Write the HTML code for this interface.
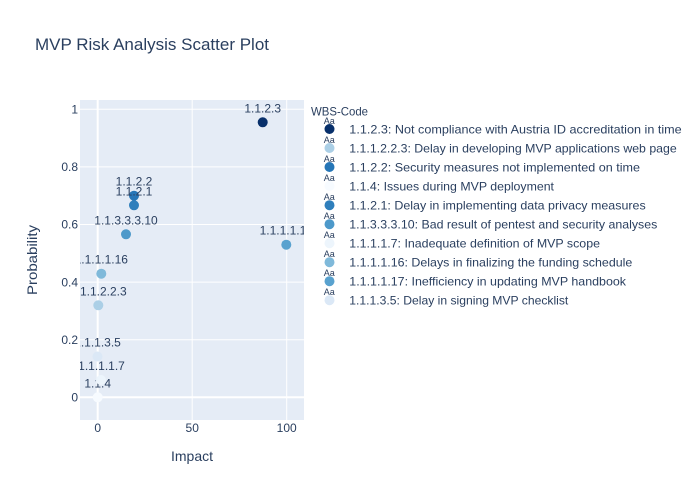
<!DOCTYPE html>
<html>
<head>
<meta charset="utf-8">
<style>
  html, body { margin: 0; padding: 0; background: #ffffff; }
  svg { display: block; }
  text { font-family: "Liberation Sans", "DejaVu Sans", sans-serif; fill: #2a3f5f; }
</style>
</head>
<body>
<svg width="700" height="500" viewBox="0 0 700 500" xmlns="http://www.w3.org/2000/svg">
  <defs>
    <clipPath id="plotclip">
      <rect x="80" y="100" width="224" height="320"/>
    </clipPath>
  </defs>
  <rect x="0" y="0" width="700" height="500" fill="#ffffff"/>
  <!-- plot background -->
  <rect x="80" y="100" width="224" height="320" fill="#e5ecf6"/>

  <!-- grid lines -->
  <g stroke="#ffffff" stroke-width="1">
    <line x1="192.2" y1="100" x2="192.2" y2="420"/>
    <line x1="286.7" y1="100" x2="286.7" y2="420"/>
    <line x1="80" y1="109.3" x2="304" y2="109.3"/>
    <line x1="80" y1="166.9" x2="304" y2="166.9"/>
    <line x1="80" y1="224.5" x2="304" y2="224.5"/>
    <line x1="80" y1="282.1" x2="304" y2="282.1"/>
    <line x1="80" y1="339.7" x2="304" y2="339.7"/>
  </g>
  <!-- zero lines -->
  <g stroke="#ffffff" stroke-width="2">
    <line x1="97.7" y1="100" x2="97.7" y2="420"/>
    <line x1="80" y1="397.3" x2="304" y2="397.3"/>
  </g>

  <!-- title -->
  <text x="35" y="50" font-size="17" textLength="234" lengthAdjust="spacingAndGlyphs">MVP Risk Analysis Scatter Plot</text>

  <!-- y tick labels -->
  <g font-size="12" text-anchor="end">
    <text x="78" y="113.5">1</text>
    <text x="78" y="171.1">0.8</text>
    <text x="78" y="228.7">0.6</text>
    <text x="78" y="286.3">0.4</text>
    <text x="78" y="343.9">0.2</text>
    <text x="78" y="401.5">0</text>
  </g>
  <!-- x tick labels -->
  <g font-size="12" text-anchor="middle">
    <text x="97.7" y="432">0</text>
    <text x="192.2" y="432">50</text>
    <text x="286.7" y="432">100</text>
  </g>

  <!-- axis titles -->
  <text x="192" y="461" font-size="14" text-anchor="middle">Impact</text>
  <text transform="translate(37,260) rotate(-90)" x="0" y="0" font-size="14" text-anchor="middle" textLength="70" lengthAdjust="spacingAndGlyphs">Probability</text>

  <!-- data traces, in legend order: marker then label -->
  <g clip-path="url(#plotclip)" font-size="12" text-anchor="middle">
    <circle cx="262.7" cy="122.3" r="5" fill="rgb(8,48,107)"/>
    <text x="262.7" y="112.3">1.1.2.3</text>

    <circle cx="98.3" cy="305.3" r="5" fill="rgb(171,207,230)"/>
    <text x="98.3" y="295.3">1.1.1.2.2.3</text>

    <circle cx="134" cy="195.7" r="5" fill="rgb(38,118,183)"/>
    <text x="134" y="185.7">1.1.2.2</text>

    <circle cx="97.7" cy="397.3" r="5" fill="rgb(247,251,255)"/>
    <text x="97.7" y="387.3">1.1.4</text>

    <circle cx="134" cy="205.3" r="5" fill="rgb(47,127,188)"/>
    <text x="134" y="195.3">1.1.2.1</text>

    <circle cx="126" cy="234.3" r="5" fill="rgb(77,153,202)"/>
    <text x="126" y="224.3">1.1.3.3.3.10</text>

    <circle cx="101" cy="380" r="5" fill="rgb(237,245,252)"/>
    <text x="101.5" y="370">1.1.1.1.7</text>

    <circle cx="101.3" cy="273.7" r="5" fill="rgb(127,185,218)"/>
    <text x="101.3" y="263.7">1.1.1.1.16</text>

    <circle cx="286.3" cy="244.7" r="5" fill="rgb(89,162,207)"/>
    <text x="286.3" y="234.7">1.1.1.1.17</text>

    <circle cx="97.5" cy="356.5" r="5" fill="rgb(219,232,246)"/>
    <text x="97.5" y="346.5">1.1.1.3.5</text>
  </g>

  <!-- legend -->
  <text x="311" y="115.5" font-size="12" textLength="57" lengthAdjust="spacingAndGlyphs">WBS-Code</text>
  <g>
    <g transform="translate(0,129)">
      <text x="329.3" y="-5" font-size="9" text-anchor="middle">Aa</text>
      <circle cx="329.5" cy="0" r="5" fill="rgb(8,48,107)"/>
      <text x="349.3" y="4.5" font-size="12" textLength="332.4" lengthAdjust="spacingAndGlyphs">1.1.2.3: Not compliance with Austria ID accreditation in time</text>
    </g>
    <g transform="translate(0,148)">
      <text x="329.3" y="-5" font-size="9" text-anchor="middle">Aa</text>
      <circle cx="329.5" cy="0" r="5" fill="rgb(171,207,230)"/>
      <text x="349.3" y="4.5" font-size="12" textLength="327.4" lengthAdjust="spacingAndGlyphs">1.1.1.2.2.3: Delay in developing MVP applications web page</text>
    </g>
    <g transform="translate(0,167)">
      <text x="329.3" y="-5" font-size="9" text-anchor="middle">Aa</text>
      <circle cx="329.5" cy="0" r="5" fill="rgb(38,118,183)"/>
      <text x="349.3" y="4.5" font-size="12" textLength="290.7" lengthAdjust="spacingAndGlyphs">1.1.2.2: Security measures not implemented on time</text>
    </g>
    <g transform="translate(0,186)">
      <text x="329.3" y="-5" font-size="9" text-anchor="middle">Aa</text>
      <circle cx="329.5" cy="0" r="5" fill="rgb(247,251,255)"/>
      <text x="349.3" y="4.5" font-size="12" textLength="204.7" lengthAdjust="spacingAndGlyphs">1.1.4: Issues during MVP deployment</text>
    </g>
    <g transform="translate(0,205.2)">
      <text x="329.3" y="-5" font-size="9" text-anchor="middle">Aa</text>
      <circle cx="329.5" cy="0" r="5" fill="rgb(47,127,188)"/>
      <text x="349.3" y="4.5" font-size="12" textLength="296.4" lengthAdjust="spacingAndGlyphs">1.1.2.1: Delay in implementing data privacy measures</text>
    </g>
    <g transform="translate(0,224.2)">
      <text x="329.3" y="-5" font-size="9" text-anchor="middle">Aa</text>
      <circle cx="329.5" cy="0" r="5" fill="rgb(77,153,202)"/>
      <text x="349.3" y="4.5" font-size="12" textLength="308" lengthAdjust="spacingAndGlyphs">1.1.3.3.3.10: Bad result of pentest and security analyses</text>
    </g>
    <g transform="translate(0,243.2)">
      <text x="329.3" y="-5" font-size="9" text-anchor="middle">Aa</text>
      <circle cx="329.5" cy="0" r="5" fill="rgb(237,245,252)"/>
      <text x="349.3" y="4.5" font-size="12" textLength="250.7" lengthAdjust="spacingAndGlyphs">1.1.1.1.7: Inadequate definition of MVP scope</text>
    </g>
    <g transform="translate(0,262.2)">
      <text x="329.3" y="-5" font-size="9" text-anchor="middle">Aa</text>
      <circle cx="329.5" cy="0" r="5" fill="rgb(127,185,218)"/>
      <text x="349.3" y="4.5" font-size="12" textLength="283" lengthAdjust="spacingAndGlyphs">1.1.1.1.16: Delays in finalizing the funding schedule</text>
    </g>
    <g transform="translate(0,281.2)">
      <text x="329.3" y="-5" font-size="9" text-anchor="middle">Aa</text>
      <circle cx="329.5" cy="0" r="5" fill="rgb(89,162,207)"/>
      <text x="349.3" y="4.5" font-size="12" textLength="276.7" lengthAdjust="spacingAndGlyphs">1.1.1.1.17: Inefficiency in updating MVP handbook</text>
    </g>
    <g transform="translate(0,300.2)">
      <text x="329.3" y="-5" font-size="9" text-anchor="middle">Aa</text>
      <circle cx="329.5" cy="0" r="5" fill="rgb(219,232,246)"/>
      <text x="349.3" y="4.5" font-size="12" textLength="219" lengthAdjust="spacingAndGlyphs">1.1.1.3.5: Delay in signing MVP checklist</text>
    </g>
  </g>
</svg>
</body>
</html>
